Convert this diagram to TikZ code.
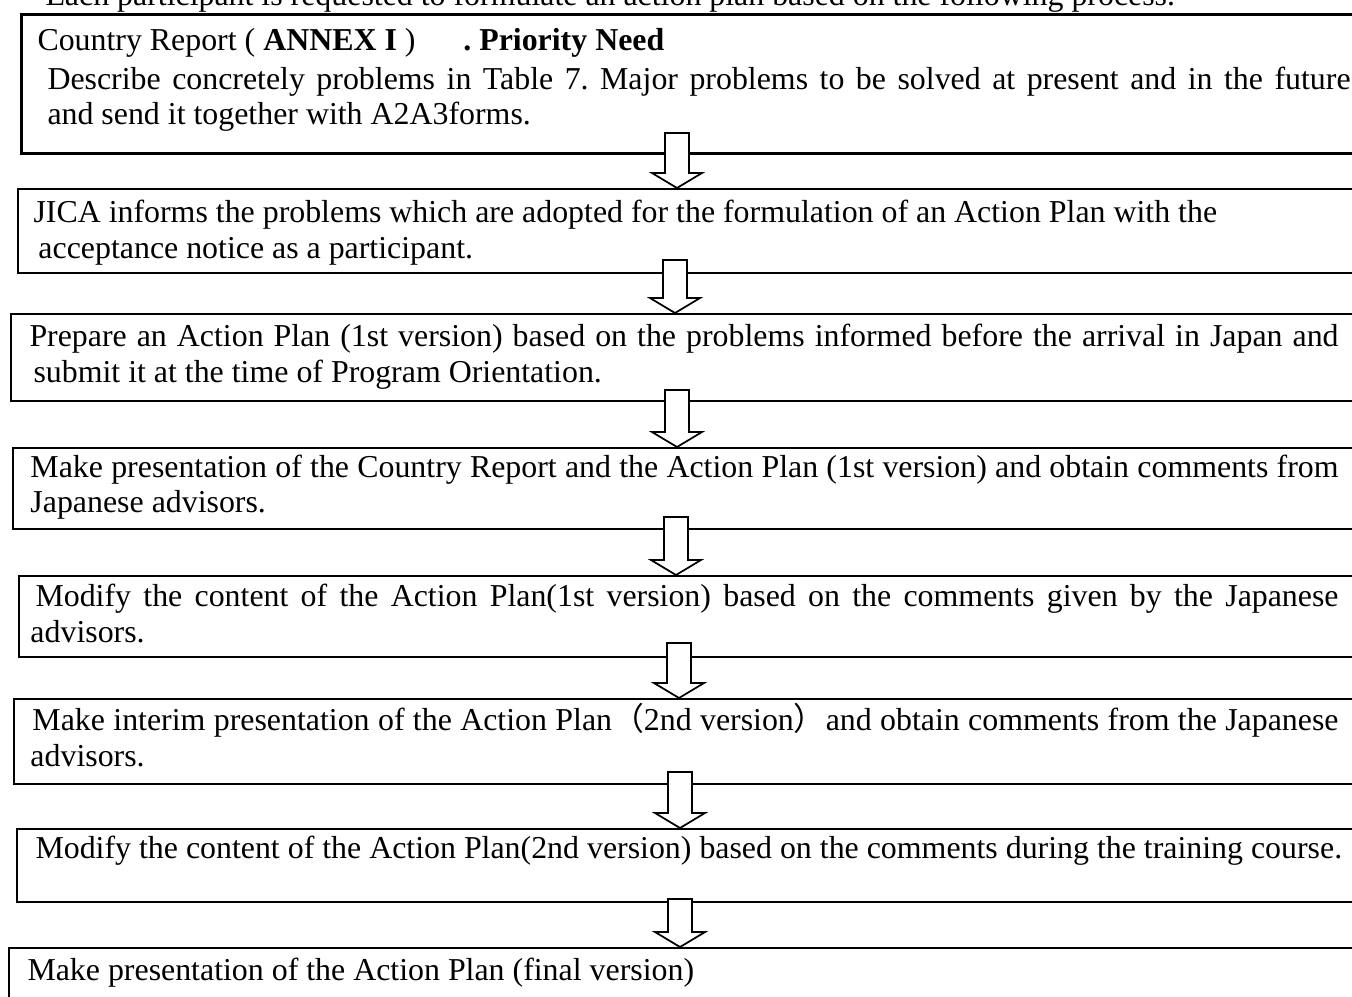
\documentclass[tikz,border=0pt]{standalone}
\usepackage{fontspec}
\setmainfont{Liberation Serif}
\newfontfamily\cjk{Noto Sans CJK SC}
\usetikzlibrary{calc}
\frenchspacing

\begin{document}
\begin{tikzpicture}[
    x=0.4pt, y=-0.4pt,
    font=\fontsize{12.75}{15}\selectfont,
    stepbox/.style={rectangle, draw=black, line width=0.6pt, fill=none,
        anchor=north west, inner sep=0pt, minimum width=600pt},
    firstbox/.style={stepbox, line width=1.1pt},
    rowtext/.style={anchor=base west, inner sep=0pt},
    flowarrow/.style={draw=black, fill=white, line width=0.7pt, line join=miter}
]
    \useasboundingbox (0,0) rectangle (1352,996);
    \clip (0,0) rectangle (1352,996);

    % heading line, cut at the top edge
    \node[rowtext] (intro) at (45,5) {Each participant is requested to formulate an action plan based on the following process.};

    % boxes
    \node[firstbox, minimum height=139*0.4pt] (b1) at (20,13) {};
    \node[stepbox, minimum height=84*0.4pt] (b2) at (17,188) {};
    \node[stepbox, minimum height=87*0.4pt] (b3) at (10,313) {};
    \node[stepbox, minimum height=81*0.4pt] (b4) at (12,447) {};
    \node[stepbox, minimum height=81*0.4pt] (b5) at (18,575) {};
    \node[stepbox, minimum height=85*0.4pt] (b6) at (13,698) {};
    \node[stepbox, minimum height=73*0.4pt] (b7) at (16,828) {};
    \node[stepbox, minimum height=100*0.4pt] (b8) at (8,947) {};

    % texts
    \node[rowtext] (b1l1) at (37,50) {Country Report ( \textbf{ANNEX I} )\hspace{1.5em}\textbf{. Priority Need}};
    \node[rowtext] (b1l2) at (47,89) {\makebox[521.2pt][s]{Describe concretely problems in Table 7. Major problems to be solved at present and in the future}};
    \node[rowtext] (b1l3) at (47,124) {and send it together with A2A3forms.};

    \node[rowtext] (b2l1) at (33,222) {JICA informs the problems which are adopted for the formulation of an Action Plan with the};
    \node[rowtext] (b2l2) at (38,258) {acceptance notice as a participant.};

    \node[rowtext] (b3l1) at (29,346) {\makebox[523.6pt][s]{Prepare an Action Plan (1st version) based on the problems informed before the arrival in Japan and}};
    \node[rowtext] (b3l2) at (33,382) {submit it at the time of Program Orientation.};

    \node[rowtext] (b4l1) at (30,477) {\makebox[523.2pt][s]{Make presentation of the Country Report and the Action Plan (1st version) and obtain comments from}};
    \node[rowtext] (b4l2) at (30,512) {Japanese advisors.};

    \node[rowtext] (b5l1) at (35,606) {\makebox[521.2pt][s]{Modify the content of the Action Plan(1st version) based on the comments given by the Japanese}};
    \node[rowtext] (b5l2) at (30,642) {advisors.};

    \node[rowtext] (b6l1) at (32,730) {\makebox[522.4pt][s]{Make interim presentation of the Action Plan{\cjk（}2nd version{\cjk）}and obtain comments from the Japanese}};
    \node[rowtext] (b6l2) at (30,766) {advisors.};

    \node[rowtext] (b7l1) at (35,858) {Modify the content of the Action Plan(2nd version) based on the comments during the training course.};

    \node[rowtext] (b8l1) at (27,980) {Make presentation of the Action Plan (final version)};

    % hollow arrows, from the tail coordinate down to the top of the next box
    \coordinate (a1) at (677,133);
    \coordinate (a2) at (675,260);
    \coordinate (a3) at (677,390);
    \coordinate (a4) at (676,517);
    \coordinate (a5) at (679,643);
    \coordinate (a6) at (680,772);
    \coordinate (a7) at (680,899);
    \foreach \s/\t in {a1/b2, a2/b3, a3/b4, a4/b5, a5/b6, a6/b7, a7/b8}
        \draw[flowarrow] ($(\s)+(-12,0)$) -- ($(\s|-\t.north)+(-12,-15)$)
            -- ($(\s|-\t.north)+(-25,-15)$) -- (\s|-\t.north)
            -- ($(\s|-\t.north)+(25,-15)$) -- ($(\s|-\t.north)+(12,-15)$)
            -- ($(\s)+(12,0)$) -- cycle;
\end{tikzpicture}
\end{document}
